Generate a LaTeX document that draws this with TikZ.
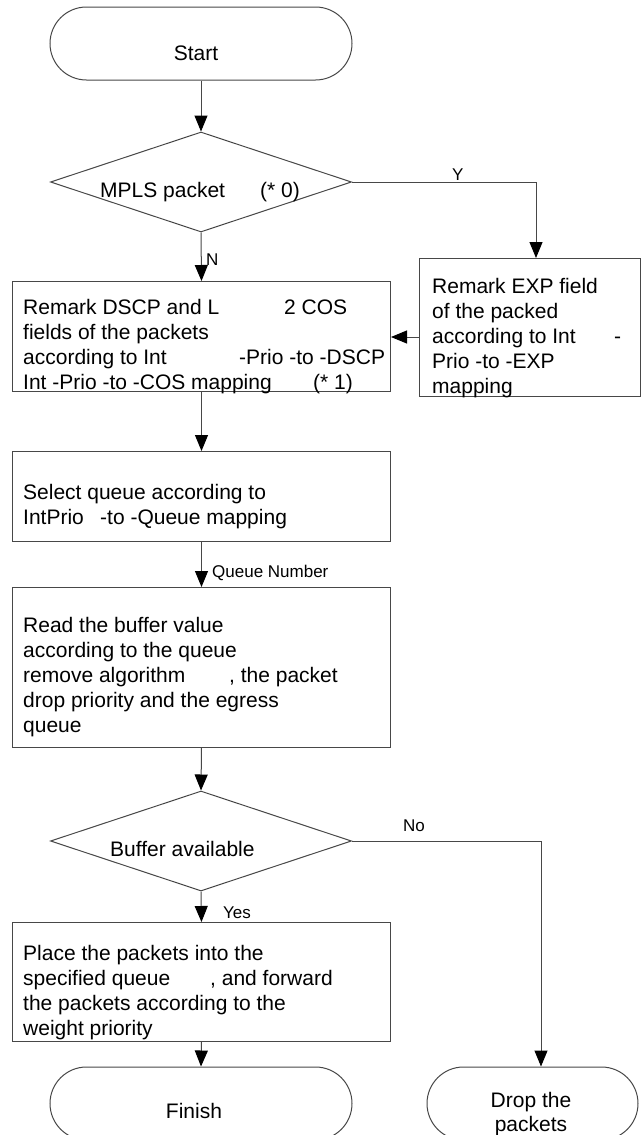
\documentclass[tikz,border=0pt]{standalone}
\usepackage{fontspec}
\setmainfont{Liberation Sans}
\usetikzlibrary{arrows.meta,shapes.geometric}
\begin{document}
\begin{tikzpicture}[x=1pt,y=-1pt,
  ln/.style={draw=black!72, line width=1pt},
  arr/.style={ln, -{Triangle[length=16pt,width=13pt,color=black]}},
  box/.style={ln, rectangle, inner sep=0pt, anchor=north west},
  term/.style={ln, rectangle, rounded corners=36.5pt, inner sep=0pt, minimum height=73pt},
  dec/.style={ln, diamond, inner sep=0pt, minimum width=301pt, minimum height=100pt},
  txt/.style={font=\fontsize{21}{25}\selectfont, inner sep=0pt, anchor=base west},
  ctxt/.style={font=\fontsize{21}{25}\selectfont, inner sep=0pt, anchor=base},
  lbl/.style={font=\fontsize{17}{20}\selectfont, inner sep=0pt, anchor=base west}]
\fill[white] (0,0) rectangle (642,1135);
\clip (0,0) rectangle (642,1135);

% shapes
\node[term, minimum width=302pt] (start) at (201,43.5) {};
\node[dec] (d1) at (201,182) {};
\node[box, minimum width=378pt, minimum height=110pt] (dscp) at (12,281) {};
\node[box, minimum width=221pt, minimum height=138pt] (exp) at (419,258) {};
\node[box, minimum width=378pt, minimum height=90pt] (sel) at (12,451) {};
\node[box, minimum width=378pt, minimum height=160pt] (read) at (12,587) {};
\node[dec] (d2) at (201,841) {};
\node[box, minimum width=378pt, minimum height=119pt] (place) at (12,922) {};
\node[term, minimum width=302pt] (finish) at (201,1103.5) {};
\node[term, minimum width=211pt] (drop) at (532.5,1103.5) {};

% texts
\node[ctxt] (tstart) at (196,60) {Start};
\node[txt] (tm1) at (100,197) {MPLS packet};
\node[txt] (tm2) at (260,197) {(* 0)};
\node[lbl] (lN) at (206,265) {N};
\node[lbl] (lY) at (452,180) {Y};

\node[txt] (ta1) at (23,314) {Remark DSCP and L};
\node[txt] (ta2) at (284,314) {2 COS};
\node[txt] (ta3) at (23,339) {fields of the packets};
\node[txt] (ta4) at (23,364) {according to Int};
\node[txt] (ta5) at (239,364) {-Prio -to -DSCP};
\node[txt] (ta6) at (23,389) {Int -Prio -to -COS mapping};
\node[txt] (ta7) at (313,389) {(* 1)};

\node[txt] (tb1) at (432,293) {Remark EXP field};
\node[txt] (tb2) at (432,318) {of the packed};
\node[txt] (tb3) at (432,343) {according to Int};
\node[txt] (tb4) at (614,343) {-};
\node[txt] (tb5) at (432,368) {Prio -to -EXP};
\node[txt] (tb6) at (432,393) {mapping};

\node[txt] (tc1) at (23,499) {Select queue according to};
\node[txt] (tc2) at (23,524) {IntPrio};
\node[txt] (tc3) at (100,524) {-to -Queue mapping};
\node[lbl] (lq) at (212,577) {Queue Number};

\node[txt] (td1) at (23,632) {Read the buffer value};
\node[txt] (td2) at (23,657) {according to the queue};
\node[txt] (td3) at (23,682) {remove algorithm};
\node[txt] (td4) at (229,682) {, the packet};
\node[txt] (td5) at (23,707) {drop priority and the egress};
\node[txt] (td6) at (23,732) {queue};

\node[txt] (te1) at (110,856) {Buffer available};
\node[lbl] (lNo) at (403,831) {No};
\node[lbl] (lYes) at (223,918) {Yes};

\node[txt] (tf1) at (23,960) {Place the packets into the};
\node[txt] (tf2) at (23,985) {specified queue};
\node[txt] (tf3) at (210,985) {, and forward};
\node[txt] (tf4) at (23,1010) {the packets according to the};
\node[txt] (tf5) at (23,1035) {weight priority};

\node[ctxt] (tfin) at (194,1118) {Finish};
\node[ctxt] (tdr1) at (531,1107) {Drop the};
\node[ctxt] (tdr2) at (531,1131) {packets};

% connectors
\coordinate (yc) at (536,182);
\coordinate (ea) at (419,337);
\coordinate (nc) at (541,841);
\draw[arr] (start.south) -- (d1.north);
\draw[arr] (d1.south) -- (dscp.north);
\draw[arr] (d1.east) -- (yc) -- (yc |- exp.north);
\draw[arr] (exp.west |- ea) -- (dscp.east |- ea);
\draw[arr] (dscp.south) -- (sel.north);
\draw[arr] (sel.south) -- (read.north);
\draw[arr] (read.south) -- (d2.north);
\draw[arr] (d2.south) -- (place.north);
\draw[arr] (place.south) -- (finish.north);
\draw[arr] (d2.east) -- (nc) -- (nc |- drop.north);
\end{tikzpicture}
\end{document}
